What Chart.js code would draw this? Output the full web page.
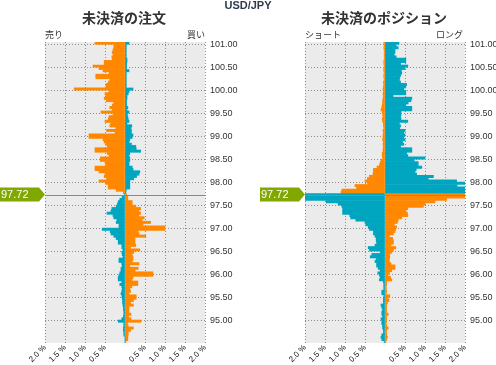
<!DOCTYPE html>
<html>
<head>
<meta charset="utf-8">
<script src="https://cdn.jsdelivr.net/npm/chart.js@4"></script>
<style>
  body { margin: 0; width: 496px; height: 365px; overflow: hidden; position: relative; background: #fff; }
  canvas { position: absolute; top: 0; }
  #orders { left: 0; }
  #positions { left: 248px; }
  .txt { position: absolute; white-space: nowrap; color: #333; font-family: "Noto Sans CJK JP", sans-serif; }
  #pair { left: 0; width: 496px; top: -1px; text-align: center; font: bold 11px/12px "Liberation Sans", sans-serif; color: #2f3a4f; }
  .title { top: 9px; width: 200px; text-align: center; font-weight: bold; font-size: 14px; line-height: 16px; }
  .side { top: 29px; font-size: 9px; line-height: 11px; }
</style>
</head>
<body>
<canvas id="orders" width="248" height="365"></canvas>
<canvas id="positions" width="248" height="365"></canvas>
<div id="pair" class="txt">USD/JPY</div>
<div class="txt title" style="left:24px">未決済の注文</div>
<div class="txt title" style="left:284px">未決済のポジション</div>
<div class="txt side" style="left:45px">売り</div>
<div class="txt side" style="right:291px">買い</div>
<div class="txt side" style="left:305px">ショート</div>
<div class="txt side" style="right:33px">ロング</div>
<script>
// colours
const orange = '#ff8800';
const teal = '#00a5bf';
const green = '#80a800';
const plotBg = '#ebebeb';

// price levels, top row first (each row covers price .. price + step)
const currentPrice = 97.72;
const priceTop = 101.00;
const priceStep = 0.05;
const priceTicks = [101.00, 100.50, 100.00, 99.50, 99.00, 98.50, 98.00, 97.50, 97.00, 96.50, 96.00, 95.50, 95.00];
const pctTicks = [-2, -1.5, -1, -0.5, 0, 0.5, 1, 1.5, 2];

// open orders, % (left side = 売り, right side = 買い)
const orderSell = [
  0.75, 0.28, 0.28, 0.30, 0.32, 0.30, 0.33, 0.32, 0.52, 0.52,
  0.80, 0.65, 0.55, 0.40, 0.73, 0.73, 0.38, 0.42, 0.47, 0.48,
  1.27, 0.40, 0.50, 0.48, 0.52, 0.47, 0.28, 0.32, 0.38, 0.32,
  0.60, 0.30, 0.40, 0.42, 0.50, 0.36, 0.38, 0.23, 0.46, 0.25,
  0.90, 0.90, 0.55, 0.52, 0.48, 0.44, 0.75, 0.75, 0.44, 0.40,
  0.62, 0.62, 0.50, 0.48, 0.75, 0.75, 0.65, 0.50, 0.52, 0.46,
  0.65, 0.48, 0.42, 0.42, 0.22, 0.04, 0.01, 0.07, 0.13, 0.17,
  0.19, 0.22, 0.33, 0.35, 0.45, 0.30, 0.28, 0.20, 0.22, 0.15,
  0.15, 0.57, 0.37, 0.35, 0.28, 0.22, 0.17, 0.17, 0.08, 0.08,
  0.05, 0.08, 0.07, 0.05, 0.15, 0.15, 0.08, 0.07, 0.10, 0.10,
  0.13, 0.15, 0.17, 0.17, 0.08, 0.13, 0.08, 0.07, 0.08, 0.10,
  0.08, 0.07, 0.06, 0.06, 0.05, 0.04, 0.04, 0.03, 0.03, 0.04,
  0.08, 0.17, 0.03, 0.03, 0.04, 0.04, 0.03, 0.03, 0.00, 0.00, 0.00
];
const orderBuy = [
  0.10, 0.03, 0.03, 0.03, 0.03, 0.03, 0.03, 0.05, 0.05, 0.04,
  0.04, 0.04, 0.10, 0.03, 0.03, 0.03, 0.03, 0.03, 0.03, 0.03,
  0.20, 0.10, 0.08, 0.05, 0.05, 0.04, 0.04, 0.04, 0.07, 0.05,
  0.10, 0.06, 0.07, 0.08, 0.10, 0.05, 0.17, 0.15, 0.16, 0.16,
  0.20, 0.18, 0.12, 0.10, 0.16, 0.27, 0.28, 0.39, 0.12, 0.10,
  0.12, 0.12, 0.10, 0.10, 0.18, 0.20, 0.37, 0.35, 0.29, 0.22,
  0.12, 0.12, 0.12, 0.12, 0.03, 0.02, 0.04, 0.07, 0.07, 0.18,
  0.18, 0.27, 0.39, 0.35, 0.39, 0.35, 0.48, 0.43, 0.64, 0.45,
  1.00, 1.00, 0.33, 0.35, 0.52, 0.25, 0.25, 0.25, 0.27, 0.14,
  0.37, 0.22, 0.18, 0.20, 0.20, 0.18, 0.35, 0.12, 0.33, 0.25,
  0.70, 0.70, 0.20, 0.18, 0.32, 0.32, 0.17, 0.12, 0.14, 0.10,
  0.28, 0.28, 0.21, 0.14, 0.21, 0.10, 0.10, 0.10, 0.15, 0.09,
  0.15, 0.40, 0.06, 0.08, 0.21, 0.14, 0.08, 0.08, 0.07, 0.07, 0.02
];

// open positions, % (left side = ショート, right side = ロング)
const posShort = [
  0.03, 0.02, 0.03, 0.02, 0.02, 0.02, 0.02, 0.02, 0.03, 0.03,
  0.02, 0.03, 0.03, 0.02, 0.03, 0.03, 0.02, 0.04, 0.03, 0.04,
  0.05, 0.04, 0.05, 0.04, 0.05, 0.06, 0.06, 0.07, 0.08, 0.10,
  0.07, 0.06, 0.05, 0.07, 0.06, 0.04, 0.04, 0.03, 0.05, 0.04,
  0.05, 0.05, 0.06, 0.04, 0.05, 0.04, 0.05, 0.05, 0.07, 0.07,
  0.06, 0.10, 0.12, 0.14, 0.20, 0.29, 0.29, 0.30, 0.39, 0.44,
  0.50, 0.44, 0.75, 0.71, 1.08, 1.10, 2.00, 2.00, 2.00, 1.47,
  1.17, 1.08, 1.06, 1.06, 1.06, 0.88, 0.86, 0.73, 0.50, 0.48,
  0.42, 0.39, 0.29, 0.29, 0.25, 0.22, 0.22, 0.21, 0.25, 0.42,
  0.39, 0.12, 0.33, 0.37, 0.22, 0.25, 0.21, 0.21, 0.17, 0.12,
  0.18, 0.14, 0.12, 0.14, 0.04, 0.03, 0.03, 0.03, 0.08, 0.08,
  0.03, 0.04, 0.04, 0.04, 0.10, 0.08, 0.06, 0.08, 0.08, 0.06,
  0.10, 0.08, 0.08, 0.06, 0.06, 0.04, 0.04, 0.08, 0.10, 0.08, 0.02
];
const posLong = [
  0.35, 0.28, 0.33, 0.25, 0.25, 0.23, 0.28, 0.52, 0.52, 0.39,
  0.57, 0.50, 0.41, 0.42, 0.39, 0.37, 0.36, 0.39, 0.54, 0.52,
  0.47, 0.52, 0.52, 0.20, 0.67, 0.65, 0.58, 0.52, 0.67, 0.67,
  0.40, 0.40, 0.39, 0.40, 0.57, 0.36, 0.39, 0.37, 0.50, 0.47,
  0.50, 0.47, 0.50, 0.44, 0.47, 0.39, 0.67, 0.67, 0.54, 0.57,
  1.00, 0.73, 0.83, 0.83, 0.92, 0.78, 0.75, 0.79, 1.21, 1.08,
  1.79, 2.00, 1.80, 2.00, 2.00, 2.00, 2.00, 2.00, 1.54, 1.25,
  1.00, 0.96, 0.57, 0.52, 0.56, 0.57, 0.42, 0.33, 0.31, 0.23,
  0.29, 0.27, 0.25, 0.21, 0.11, 0.19, 0.21, 0.21, 0.15, 0.27,
  0.21, 0.17, 0.12, 0.12, 0.11, 0.11, 0.15, 0.25, 0.25, 0.17,
  0.11, 0.08, 0.14, 0.17, 0.04, 0.04, 0.03, 0.03, 0.04, 0.03,
  0.12, 0.08, 0.10, 0.06, 0.04, 0.04, 0.04, 0.04, 0.08, 0.04,
  0.04, 0.04, 0.03, 0.04, 0.08, 0.04, 0.04, 0.04, 0.06, 0.04, 0.02
];

const prices = orderSell.map((_, i) => +(priceTop - i * priceStep).toFixed(2));

// grey plot area behind the grid
const plotBackground = {
  id: 'plotBackground',
  beforeDraw(chart) {
    const { ctx, chartArea: a } = chart;
    ctx.save();
    ctx.fillStyle = plotBg;
    ctx.fillRect(a.left, a.top, a.right - a.left, a.bottom - a.top);
    ctx.restore();
  }
};

// current price line + green arrow label
const priceMarker = {
  id: 'priceMarker',
  afterDraw(chart) {
    const { ctx, chartArea: a, scales: { y } } = chart;
    const py = Math.round(y.getPixelForValue(currentPrice)) + 0.5;
    ctx.save();
    ctx.strokeStyle = green;
    ctx.lineWidth = 1;
    ctx.beginPath();
    ctx.moveTo(a.left, py);
    ctx.lineTo(a.right, py);
    ctx.stroke();

    const x0 = a.left - 45;
    ctx.fillStyle = green;
    ctx.beginPath();
    ctx.moveTo(x0, py - 8);
    ctx.lineTo(x0 + 39, py - 8);
    ctx.lineTo(a.left, py - 1);
    ctx.lineTo(x0 + 39, py + 6);
    ctx.lineTo(x0, py + 6);
    ctx.closePath();
    ctx.fill();

    ctx.fillStyle = '#fff';
    ctx.font = '11px "Liberation Sans", sans-serif';
    ctx.textBaseline = 'middle';
    ctx.textAlign = 'left';
    ctx.fillText(currentPrice.toFixed(2), x0 + 1, py - 1);
    ctx.restore();
  }
};

function buildChart(id, leftVals, rightVals, padLeft, axisWidth) {
  const above = prices.map(p => p > currentPrice);
  return new Chart(document.getElementById(id), {
    type: 'bar',
    data: {
      datasets: [
        {
          data: prices.map((p, i) => ({ x: -leftVals[i], y: p + priceStep / 2 })),
          backgroundColor: above.map(a => a ? orange : teal)
        },
        {
          data: prices.map((p, i) => ({ x: rightVals[i], y: p + priceStep / 2 })),
          backgroundColor: above.map(a => a ? teal : orange)
        }
      ]
    },
    options: {
      indexAxis: 'y',
      responsive: false,
      animation: false,
      events: [],
      layout: { padding: { left: padLeft, top: 42, right: 0, bottom: 0 } },
      plugins: { legend: { display: false }, tooltip: { enabled: false } },
      datasets: { bar: { barPercentage: 1, categoryPercentage: 1, borderWidth: 0 } },
      scales: {
        x: {
          type: 'linear',
          min: -2,
          max: 2,
          stacked: true,
          offset: false,
          afterBuildTicks: s => { s.ticks = pctTicks.map(v => ({ value: v })); },
          afterFit: s => { s.height = 22; },
          grid: { color: '#8c8c8c', drawTicks: false, offset: false },
          border: { display: false, dash: [1, 2] },
          ticks: {
            autoSkip: false,
            minRotation: 45,
            maxRotation: 45,
            padding: 0,
            color: '#111',
            font: { family: 'Liberation Sans', size: 8 },
            callback: v => v === 0 ? '' : Math.abs(v).toFixed(1) + ' %'
          }
        },
        y: {
          type: 'linear',
          position: 'right',
          min: 94.50,
          max: 101.05,
          stacked: true,
          offset: false,
          afterBuildTicks: s => { s.ticks = priceTicks.map(v => ({ value: v })); },
          afterFit: s => { s.width = axisWidth; },
          grid: { color: '#8c8c8c', drawTicks: false, offset: false },
          border: { display: false, dash: [1, 2] },
          ticks: {
            autoSkip: false,
            padding: 5,
            color: '#333',
            font: { family: 'Liberation Sans', size: 9 },
            callback: v => Number(v).toFixed(2)
          }
        }
      }
    },
    plugins: [plotBackground, priceMarker]
  });
}

buildChart('orders', orderSell, orderBuy, 45, 43);
buildChart('positions', posShort, posLong, 57, 31);
</script>
</body>
</html>
